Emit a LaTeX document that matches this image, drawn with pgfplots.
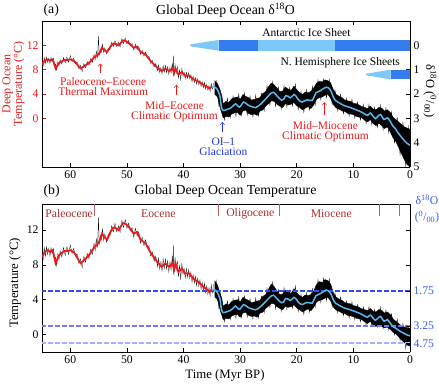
\documentclass[border=0pt]{standalone}
\usepackage{fontspec}
\setmainfont{Liberation Serif}
\usepackage{pgfplots}
\usepackage{pgfplotstable}
\pgfplotsset{compat=1.18}
\usetikzlibrary{arrows.meta}

\definecolor{tred}{RGB}{235,25,25}
\definecolor{lblue}{RGB}{85,185,240}
\definecolor{barDark}{RGB}{50,125,235}
\definecolor{barLight}{RGB}{125,200,250}
\definecolor{oiblue}{RGB}{35,55,230}
\definecolor{epochc}{RGB}{170,45,45}
\definecolor{epochl}{RGB}{195,95,95}
\definecolor{rlab}{RGB}{55,90,245}
\definecolor{hlineA}{RGB}{45,75,255}
\definecolor{hlineB}{RGB}{105,125,255}
\definecolor{hlineC}{RGB}{165,175,255}

% ---- red smoothed curve (deg C), 65-35 Myr
\pgfplotstableread{
t T
65.0 8.9
64.5 9.5
64.1 9.7
63.5 9.5
63.1 9.7
62.6 8.2
62.0 9.1
61.1 9.6
60.5 9.6
59.9 9.7
59.3 9.4
58.2 8.2
57.3 8.7
56.5 9.3
55.8 10.0
55.2 10.4
54.8 10.8
54.4 11.6
54.0 11.2
53.5 10.9
52.9 11.8
52.4 12.3
51.9 12.2
51.5 12.0
50.7 12.8
50.2 12.7
49.7 12.4
48.8 11.6
48.2 11.8
47.6 10.9
46.7 10.5
45.8 9.4
44.6 8.3
43.9 7.8
43.2 8.15
42.6 7.8
42.3 7.9
41.9 8.3
41.7 7.4
41.4 8.15
40.9 7.2
40.3 7.6
39.7 7.0
39.1 7.05
38.2 6.4
37.3 6.0
36.4 5.45
35.8 5.15
35.4 4.9
35.0 5.2
}\redT

% ---- raw data (deg C), 65-35 Myr
\pgfplotstableread{
t T
65.0 9.4
64.8 8.6
64.6 10.0
64.4 9.0
64.2 10.1
64.0 9.2
63.8 9.9
63.6 9.0
63.4 10.0
63.2 9.3
63.0 9.9
62.8 8.6
62.6 8.9
62.4 7.9
62.2 9.3
62.0 8.6
61.8 9.6
61.5 8.9
61.2 10.0
60.9 9.1
60.6 10.1
60.3 9.2
60.0 10.3
59.7 9.3
59.4 9.9
59.1 9.0
58.8 9.3
58.5 8.2
58.2 8.7
57.9 7.7
57.6 9.0
57.3 8.3
57.0 9.3
56.7 8.7
56.4 9.8
56.1 9.2
55.8 10.5
55.6 9.7
55.4 11.0
55.2 10.0
55.0 13.5
54.9 10.3
54.7 11.4
54.5 10.9
54.3 12.2
54.1 10.8
53.9 11.6
53.6 10.6
53.3 11.5
53.0 11.3
52.7 12.5
52.4 11.8
52.1 12.8
51.8 11.8
51.5 12.5
51.2 11.7
50.9 13.1
50.6 12.3
50.3 13.2
50.0 12.2
49.7 12.8
49.4 11.9
49.1 12.3
48.8 11.2
48.5 12.2
48.2 11.3
47.9 11.8
47.6 10.5
47.3 11.2
47.0 10.2
46.7 10.9
46.4 9.9
46.1 10.2
45.8 9.0
45.5 9.5
45.2 8.4
44.9 9.0
44.6 7.8
44.4 8.8
44.2 7.5
44.0 8.4
43.8 7.3
43.6 8.7
43.4 7.6
43.2 8.7
43.0 7.5
42.8 8.5
42.6 7.2
42.4 8.4
42.2 7.4
42.0 9.0
41.9 7.8
41.8 10.3
41.7 6.8
41.5 8.9
41.3 7.4
41.1 8.5
40.9 6.6
40.7 8.0
40.5 6.3
40.3 8.2
40.1 6.9
39.9 7.6
39.7 6.5
39.5 7.6
39.3 6.6
39.1 7.5
38.9 6.5
38.7 7.2
38.5 6.0
38.3 6.9
38.1 5.9
37.9 6.7
37.7 5.6
37.5 6.5
37.3 5.5
37.1 6.3
36.9 5.2
36.7 6.0
36.5 5.0
36.3 5.9
36.1 4.8
35.9 5.6
35.7 4.6
35.5 5.4
35.3 4.4
35.1 5.7
34.9 4.8
34.7 5.8
}\preblack

% ---- blue smoothed curve, delta-18O (permil), 35-0 Myr
\pgfplotstableread{
t d
35.0 1.72
34.6 1.70
34.1 1.79
33.6 2.05
33.3 2.55
33.0 2.68
32.6 2.66
32.1 2.62
31.7 2.58
31.2 2.48
30.8 2.40
30.4 2.50
30.1 2.54
29.7 2.42
29.4 2.33
28.9 2.40
28.5 2.47
27.9 2.52
27.3 2.56
26.8 2.50
26.4 2.42
25.8 2.28
25.2 2.13
24.6 1.98
24.1 1.93
23.6 2.05
23.2 2.15
22.7 2.25
22.3 2.22
22.0 2.08
21.5 2.10
21.1 2.16
20.5 2.02
20.1 2.10
19.7 2.24
19.1 2.33
18.6 2.28
18.2 2.24
17.7 2.26
17.3 2.27
16.9 2.10
16.6 1.95
16.2 1.90
15.8 1.86
15.3 1.78
14.8 1.72
14.4 1.75
14.0 1.86
13.5 2.15
13.1 2.28
12.6 2.35
11.7 2.47
10.5 2.56
9.3 2.67
8.6 2.74
8.1 2.81
7.5 2.88
7.0 2.78
6.5 2.92
6.1 3.01
5.6 2.90
5.2 2.84
4.6 3.05
4.0 2.98
3.5 3.12
3.1 3.29
2.6 3.42
2.2 3.56
1.7 3.72
1.3 3.83
0.8 3.97
0.2 4.08
0.0 4.10
}\blueD

% ---- blue smoothed curve, deep ocean temperature (deg C), 35-0 Myr
\pgfplotstableread{
t T
35.0 5.12
34.6 5.20
34.1 4.89
33.6 4.20
33.3 2.87
33.0 2.52
32.6 2.57
32.1 2.68
31.7 2.79
31.2 3.05
30.8 3.27
30.4 3.00
30.1 2.89
29.7 3.21
29.4 3.45
28.9 3.27
28.5 3.08
27.9 2.95
27.3 2.84
26.8 3.00
26.4 3.21
25.8 3.59
25.2 3.99
24.6 4.39
24.1 4.52
23.6 4.20
23.2 3.93
22.7 3.67
22.3 3.75
22.0 4.12
21.5 4.07
21.1 3.91
20.5 4.28
20.1 4.07
19.7 3.69
19.1 3.45
18.6 3.59
18.2 3.69
17.7 3.64
17.3 3.61
16.9 4.07
16.6 4.47
16.2 4.60
15.8 4.71
15.3 4.92
14.8 5.12
14.4 5.00
14.0 4.71
13.5 3.93
13.1 3.59
12.6 3.40
11.7 3.08
10.5 2.84
9.3 2.55
8.6 2.36
8.1 2.17
7.5 1.99
7.0 2.25
6.5 1.88
6.1 1.64
5.6 1.93
5.2 2.09
4.6 1.53
4.0 1.72
3.5 1.35
3.1 0.95
2.6 0.77
2.2 0.59
1.7 0.37
1.3 0.23
0.8 0.04
0.2 -0.11
0.0 -0.13
}\blueT

% ---- raw data envelope, delta-18O, 34.5-0 Myr (upper edge then lower edge)
\pgfplotstableread{
t d
34.5 1.45
34.0 1.58
33.5 1.85
33.0 2.40
32.5 2.30
32.0 2.35
31.5 2.20
31.0 2.15
30.5 2.12
30.0 2.22
29.5 2.02
29.0 2.10
28.5 2.15
28.0 2.25
27.5 2.22
27.0 2.18
26.5 2.15
26.0 1.98
25.5 1.90
25.0 1.70
24.5 1.55
24.0 1.62
23.5 1.75
23.0 1.90
22.5 1.88
22.0 1.72
21.5 1.80
21.0 1.85
20.5 1.68
20.0 1.82
19.5 1.95
19.0 2.02
18.5 1.92
18.0 1.95
17.5 1.90
17.0 1.75
16.5 1.55
16.0 1.48
15.5 1.50
15.0 1.42
14.5 1.45
14.0 1.55
13.5 1.85
13.0 2.02
12.5 2.10
12.0 2.15
11.5 2.25
11.0 2.28
10.5 2.30
10.0 2.38
9.5 2.40
9.0 2.45
8.5 2.52
8.0 2.55
7.5 2.60
7.0 2.50
6.5 2.62
6.0 2.65
5.5 2.55
5.0 2.58
4.5 2.70
4.0 2.65
3.5 2.75
3.0 2.95
2.5 3.05
2.0 3.15
1.5 3.25
1.0 3.35
0.5 3.40
0.0 3.45
0.0 5.00
0.5 4.90
1.0 4.70
1.5 4.45
2.0 4.20
2.5 3.95
3.0 3.80
3.5 3.55
4.0 3.35
4.5 3.42
5.0 3.30
5.5 3.20
6.0 3.30
6.5 3.22
7.0 3.05
7.5 3.15
8.0 3.08
8.5 2.98
9.0 2.95
9.5 2.92
10.0 2.85
10.5 2.82
11.0 2.80
11.5 2.72
12.0 2.70
12.5 2.62
13.0 2.58
13.5 2.45
14.0 2.18
14.5 2.02
15.0 2.05
15.5 2.12
16.0 2.15
16.5 2.22
17.0 2.45
17.5 2.60
18.0 2.52
18.5 2.58
19.0 2.65
19.5 2.55
20.0 2.48
20.5 2.35
21.0 2.42
21.5 2.45
22.0 2.40
22.5 2.56
23.0 2.50
23.5 2.42
24.0 2.30
24.5 2.28
25.0 2.40
25.5 2.50
26.0 2.66
26.5 2.70
27.0 2.88
27.5 2.82
28.0 2.85
28.5 2.80
29.0 2.66
29.5 2.70
30.0 2.88
30.5 2.75
31.0 2.78
31.5 2.82
32.0 2.95
32.5 2.92
33.0 2.98
33.5 2.60
34.0 2.12
34.5 2.00
}\envD

% ---- raw data extremes, delta-18O (alternating high/low), 34.25-0.25 Myr
\pgfplotstableread{
t d
34.25 1.42
33.75 2.51
33.25 2.00
32.75 3.07
32.25 2.18
31.75 2.97
31.25 2.08
30.75 2.92
30.25 2.00
29.75 2.89
29.25 1.96
28.75 2.87
28.25 2.08
27.75 2.94
27.25 2.05
26.75 2.91
26.25 1.97
25.75 2.68
25.25 1.66
24.75 2.46
24.25 1.49
23.75 2.51
23.25 1.71
22.75 2.63
22.25 1.65
21.75 2.55
21.25 1.73
20.75 2.49
20.25 1.60
19.75 2.64
19.25 1.89
18.75 2.76
18.25 1.82
17.75 2.66
17.25 1.68
16.75 2.46
16.25 1.42
15.75 2.24
15.25 1.38
14.75 2.16
14.25 1.40
13.75 2.44
13.25 1.82
12.75 2.70
12.25 2.01
11.75 2.81
11.25 2.17
10.75 2.91
10.25 2.22
9.75 2.99
9.25 2.33
8.75 3.07
8.25 2.42
7.75 3.22
7.25 2.43
6.75 3.26
6.25 2.54
5.75 3.37
5.25 2.45
4.75 3.48
4.25 2.56
3.75 3.60
3.25 2.73
2.75 4.03
2.25 2.95
1.75 4.53
1.25 3.15
0.75 5.00
0.25 3.28
}\spkD

% ---- raw data envelope, temperature, 34.5-0 Myr (upper edge then lower edge)
\pgfplotstableread{
t T
34.5 6.20
34.0 5.68
33.5 4.73
33.0 3.27
32.5 3.53
32.0 3.40
31.5 3.80
31.0 3.93
30.5 4.01
30.0 3.75
29.5 4.28
29.0 4.07
28.5 3.93
28.0 3.67
27.5 3.75
27.0 3.85
26.5 3.93
26.0 4.39
25.5 4.60
25.0 5.20
24.5 5.80
24.0 5.52
23.5 5.00
23.0 4.60
22.5 4.65
22.0 5.12
21.5 4.87
21.0 4.73
20.5 5.28
20.0 4.81
19.5 4.47
19.0 4.28
18.5 4.55
18.0 4.47
17.5 4.60
17.0 5.00
16.5 5.80
16.0 6.08
15.5 6.00
15.0 6.32
14.5 6.20
14.0 5.80
13.5 4.73
13.0 4.28
12.5 4.07
12.0 3.93
11.5 3.67
11.0 3.59
10.5 3.53
10.0 3.32
9.5 3.27
9.0 3.13
8.5 2.95
8.0 2.87
7.5 2.73
7.0 3.00
6.5 2.68
6.0 2.60
5.5 2.87
5.0 2.79
4.5 2.47
4.0 2.60
3.5 2.33
3.0 1.80
2.5 1.53
2.0 1.27
1.5 1.00
1.0 0.87
0.5 0.80
0.0 0.73
0.0 -1.33
0.5 -1.20
1.0 -0.93
1.5 -0.60
2.0 -0.27
2.5 0.07
3.0 0.27
3.5 0.60
4.0 0.87
4.5 0.77
5.0 0.93
5.5 1.13
6.0 0.93
6.5 1.08
7.0 1.53
7.5 1.27
8.0 1.45
8.5 1.72
9.0 1.80
9.5 1.88
10.0 2.07
10.5 2.15
11.0 2.20
11.5 2.41
12.0 2.47
12.5 2.68
13.0 2.79
13.5 3.13
14.0 3.85
14.5 4.28
15.0 4.20
15.5 4.01
16.0 3.93
16.5 3.75
17.0 3.13
17.5 2.73
18.0 2.95
18.5 2.79
19.0 2.60
19.5 2.87
20.0 3.05
20.5 3.40
21.0 3.21
21.5 3.13
22.0 3.27
22.5 2.84
23.0 3.00
23.5 3.21
24.0 3.53
24.5 3.59
25.0 3.27
25.5 3.00
26.0 2.57
26.5 2.47
27.0 1.99
27.5 2.15
28.0 2.07
28.5 2.20
29.0 2.57
29.5 2.47
30.0 1.99
30.5 2.33
31.0 2.25
31.5 2.15
32.0 1.80
32.5 1.88
33.0 1.72
33.5 2.73
34.0 4.01
34.5 4.33
}\envT

% ---- raw data extremes, temperature (alternating high/low), 34.25-0.25 Myr
\pgfplotstableread{
t T
34.25 6.32
33.75 2.97
33.25 4.33
32.75 1.48
32.25 3.85
31.75 1.75
31.25 4.12
30.75 1.88
30.25 4.33
29.75 1.96
29.25 4.44
28.75 2.01
28.25 4.12
27.75 1.83
27.25 4.20
26.75 1.91
26.25 4.41
25.75 2.52
25.25 5.36
24.75 3.11
24.25 6.04
23.75 2.97
23.25 5.16
22.75 2.65
22.25 5.40
21.75 2.87
21.25 5.08
20.75 3.03
20.25 5.60
19.75 2.63
19.25 4.63
18.75 2.31
18.25 4.81
17.75 2.57
17.25 5.28
16.75 3.11
16.25 6.32
15.75 3.69
15.25 6.48
14.75 3.91
14.25 6.40
13.75 3.16
13.25 4.81
12.75 2.47
12.25 4.31
11.75 2.17
11.25 3.88
10.75 1.91
10.25 3.75
9.75 1.69
9.25 3.45
8.75 1.48
8.25 3.21
7.75 1.11
7.25 3.19
6.75 0.99
6.25 2.89
5.75 0.84
5.25 3.13
4.75 0.69
4.25 2.84
3.75 0.53
3.25 2.39
2.75 -0.04
2.25 1.80
1.75 -0.71
1.25 1.27
0.75 -1.60
0.25 0.96
}\spkT

% ---- reference levels (temperature equivalents of 1.75, 3.25, 4.75 permil)
\pgfplotstableread{
t T
0 5
65 5
}\lvlA
\pgfplotstableread{
t T
0 1
65 1
}\lvlB
\pgfplotstableread{
t T
0 -1
65 -1
}\lvlC

\pgfplotsset{
  base/.style={
    scale only axis, width=368pt,
    xmin=0, xmax=65, x dir=reverse,
    xtick={0,10,...,60},
    tick align=inside, major tick length=4pt,
    axis line style={line width=0.7pt},
    every tick/.style={line width=0.6pt},
    tick label style={font=\fontsize{11.7}{13}\selectfont},
    /pgf/number format/assume math mode=true,
  },
}
\tikzset{
  ann/.style={font=\fontsize{11.5}{10}\selectfont, align=center},
  arr/.style={line width=0.5pt, -{Straight Barb[length=2.5pt,width=4.5pt]}},
}

\begin{document}
\begin{tikzpicture}
\useasboundingbox (0,0) rectangle (439pt,383pt);

% ================= panel (a): temperature axis =================
\begin{axis}[base, at={(42pt,216pt)}, anchor=south west, height=146pt,
  ymin=-8, ymax=16, ytick={0,4,8,12},
  axis y line*=left, xtick pos=both, xticklabel pos=lower,
  yticklabel style={text=tred}, y tick style={tred}]
  \addplot[black, line width=0.25pt] table[x=t, y=T] {\preblack};
  \addplot[tred, line width=1.8pt] table[x=t, y=T] {\redT};
  \node[ann, text=tred] at (axis cs:54.2,5.26) {Paleocene--Eocene\\Thermal Maximum};
  \draw[arr, tred] (axis cs:54.7,7.4) -- (axis cs:54.7,9.0);
  \node[ann, text=tred] at (axis cs:41.6,1.03) {Mid--Eocene\\Climatic Optimum};
  \draw[arr, tred] (axis cs:41.27,3.8) -- (axis cs:41.27,5.5);
\end{axis}

% ================= panel (a): delta-18O axis =================
\begin{axis}[base, at={(42pt,216pt)}, anchor=south west, height=146pt,
  ymin=-1, ymax=5, y dir=reverse, ytick={0,1,2,3,4,5},
  axis y line*=right, axis x line=none]
  \addplot[fill=black, draw=black, line width=0.3pt] table[x=t, y=d] {\envD};
  \addplot[black, line width=0.3pt] table[x=t, y=d] {\spkD};
  \addplot[lblue, line width=1.5pt, smooth, tension=0.4] table[x=t, y=d] {\blueD};
  % ice sheets
  \addplot[fill=barLight, draw=none] coordinates {(38.8,-0.04) (33.8,-0.22) (33.8,0.22) (38.8,0.04)};
  \addplot[fill=barDark, draw=none] coordinates {(33.8,-0.22) (26.9,-0.22) (26.9,0.22) (33.8,0.22)};
  \addplot[fill=barLight, draw=none] coordinates {(26.9,-0.22) (13.3,-0.22) (13.3,0.22) (26.9,0.22)};
  \addplot[fill=barDark, draw=none] coordinates {(13.3,-0.22) (0,-0.22) (0,0.22) (13.3,0.22)};
  \addplot[fill=barLight, draw=none] coordinates {(7.8,1.17) (3.4,1.0) (3.4,1.4) (7.8,1.23)};
  \addplot[fill=barDark, draw=none] coordinates {(3.4,1.0) (0,1.0) (0,1.4) (3.4,1.4)};
  \node[font=\fontsize{11.5}{13}\selectfont] at (axis cs:18.3,-0.51) {Antarctic Ice Sheet};
  \node[font=\fontsize{11.5}{13}\selectfont, anchor=east] at (axis cs:1.15,0.71) {N. Hemisphere Ice Sheets};
  \node[ann, text=oiblue] at (axis cs:32.96,4.17) {OI--1\\Glaciation};
  \draw[arr, oiblue] (axis cs:33.14,3.58) -- (axis cs:33.14,3.15);
  \node[ann, text=tred] at (axis cs:14.93,3.54) {Mid--Miocene\\Climatic Optimum};
  \draw[arr, tred] (axis cs:15.11,2.88) -- (axis cs:15.11,2.34);
\end{axis}

% ================= panel (b): temperature =================
\begin{axis}[base, at={(42pt,31pt)}, anchor=south west, height=148pt,
  ymin=-2, ymax=15, ytick={0,4,8,12},
  axis y line*=left, xtick pos=left]
  \addplot[black, line width=0.25pt] table[x=t, y=T] {\preblack};
  \addplot[fill=black, draw=black, line width=0.3pt] table[x=t, y=T] {\envT};
  \addplot[black, line width=0.3pt] table[x=t, y=T] {\spkT};
  \addplot[hlineA, line width=1.5pt, dash pattern=on 4.5pt off 2.5pt] table[x=t, y=T] {\lvlA};
  \addplot[hlineB, line width=1.5pt, dash pattern=on 4.5pt off 2.5pt] table[x=t, y=T] {\lvlB};
  \addplot[hlineC, line width=1.7pt, dash pattern=on 4.5pt off 2.5pt] table[x=t, y=T] {\lvlC};
  \addplot[tred, line width=1.8pt] table[x=t, y=T] {\redT};
  \addplot[lblue, line width=1.5pt, smooth, tension=0.4] table[x=t, y=T] {\blueT};
  \addplot[color=epochl, line width=1pt] coordinates {(55.8,15) (55.8,13.6)};
  \addplot[color=epochl, line width=1pt] coordinates {(33.9,15) (33.9,13.6)};
  \addplot[color=epochl, line width=1pt] coordinates {(23.03,15) (23.03,13.6)};
  \addplot[color=epochl, line width=1pt] coordinates {(5.33,15) (5.33,13.6)};
  \addplot[color=epochl, line width=1pt] coordinates {(1.81,15) (1.81,13.6)};
  \node[font=\fontsize{11.7}{13}\selectfont, text=epochc] at (axis cs:60.2,13.86) {Paleocene};
  \node[font=\fontsize{11.7}{13}\selectfont, text=epochc] at (axis cs:44.45,13.86) {Eocene};
  \node[font=\fontsize{11.7}{13}\selectfont, text=epochc] at (axis cs:28.2,13.86) {Oligocene};
  \node[font=\fontsize{11.7}{13}\selectfont, text=epochc] at (axis cs:13.9,13.86) {Miocene};
\end{axis}

\begin{axis}[base, at={(42pt,31pt)}, anchor=south west, height=148pt,
  ymin=-2, ymax=15, ytick={-1,1,5,8,12},
  yticklabels={4.75,3.25,1.75,{},{}},
  yticklabel style={text=rlab},
  axis y line*=right, axis x line=none]
\end{axis}

% ================= texts outside the axes =================
\node[anchor=west, font=\fontsize{13.8}{15}\selectfont] at (40pt,373pt) {(a)};
\node[font=\fontsize{13.8}{15}\selectfont] at (225.5pt,373pt) {Global Deep Ocean δ\textsuperscript{18}O};
\node[anchor=west, font=\fontsize{13.8}{15}\selectfont] at (40pt,192pt) {(b)};
\node[font=\fontsize{13.8}{15}\selectfont] at (225.5pt,192pt) {Global Deep Ocean Temperature};

\node[rotate=90, align=center, text=tred, font=\fontsize{12}{11.5}\selectfont] at (13.5pt,299pt) {Deep Ocean\\Temperature (°C)};
\node[rotate=-90, font=\fontsize{12.5}{14}\selectfont] at (430pt,292pt) {δ\textsuperscript{18}O (\textsuperscript{0}/\textsubscript{00})};
\node[rotate=90, font=\fontsize{12.8}{14}\selectfont] at (15pt,100pt) {Temperature (°C)};
\node[font=\fontsize{12.8}{14}\selectfont] at (225pt,8pt) {Time (Myr BP)};
\node[text=rlab, font=\fontsize{11.7}{13}\selectfont] at (427pt,183pt) {δ\textsuperscript{18}O};
\node[text=rlab, font=\fontsize{11.7}{13}\selectfont] at (427pt,166pt) {(\textsuperscript{0}/\textsubscript{00})};
\end{tikzpicture}
\end{document}
